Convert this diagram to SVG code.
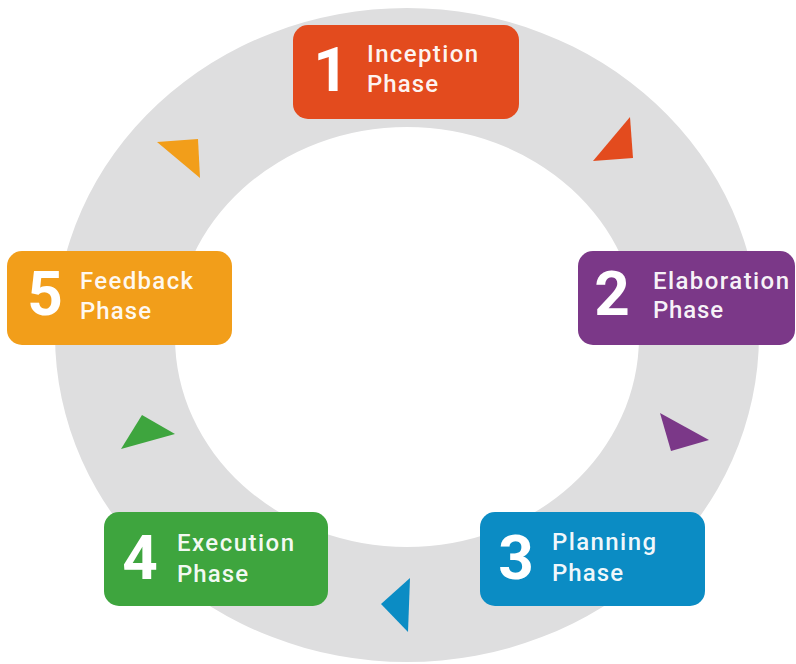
<svg xmlns="http://www.w3.org/2000/svg" width="796" height="664" viewBox="0 0 796 664">
<style>
.lbl{font-family:Roboto,"Liberation Sans",sans-serif;font-size:24px;font-weight:500;fill:#ffffff;fill-opacity:0.95;letter-spacing:1px}
.num{font-family:Roboto,"Liberation Sans",sans-serif;font-size:62px;font-weight:bold;fill:#ffffff;text-anchor:middle}
.c1{fill:#E34B1E}.c2{fill:#7B3888}.c3{fill:#0B8CC4}.c4{fill:#3EA53E}.c5{fill:#F29E1A}
</style>
<rect width="796" height="664" fill="#ffffff"/>
<path id="ring" fill="#DEDEDF" fill-rule="evenodd" d="M55,335 a352,327 0 1,0 704,0 a352,327 0 1,0 -704,0 Z M175,337 a232,210 0 1,0 464,0 a232,210 0 1,0 -464,0 Z"/>
<g id="connectors">
<polygon class="c1" points="630,117 633,158 593,161"/>
<polygon class="c2" points="660,413 709,440 671,451"/>
<polygon class="c3" points="410,578 381,604 408,632"/>
<polygon class="c4" points="142,415 175,434 121,449"/>
<polygon class="c5" points="157,142 198,139 200,178"/>
</g>
<g id="inception">
<rect class="c1" x="293" y="25" width="226" height="94" rx="15"/>
<text class="num" x="331" y="91">1</text>
<text class="lbl" x="367" y="62" textLength="112" lengthAdjust="spacing">Inception</text>
<text class="lbl" x="367" y="92" textLength="72" lengthAdjust="spacing">Phase</text>
</g>
<g id="elaboration">
<rect class="c2" x="578" y="251" width="217" height="94" rx="15"/>
<text class="num" x="612" y="315">2</text>
<text class="lbl" x="653" y="289" textLength="137" lengthAdjust="spacing">Elaboration</text>
<text class="lbl" x="653" y="318" textLength="71" lengthAdjust="spacing">Phase</text>
</g>
<g id="planning">
<rect class="c3" x="480" y="512" width="225" height="94" rx="15"/>
<text class="num" x="516" y="579">3</text>
<text class="lbl" x="552" y="550" textLength="105" lengthAdjust="spacing">Planning</text>
<text class="lbl" x="552" y="581" textLength="72" lengthAdjust="spacing">Phase</text>
</g>
<g id="execution">
<rect class="c4" x="104" y="512" width="224" height="94" rx="15"/>
<text class="num" x="140" y="579">4</text>
<text class="lbl" x="177" y="551" textLength="118" lengthAdjust="spacing">Execution</text>
<text class="lbl" x="177" y="582" textLength="72" lengthAdjust="spacing">Phase</text>
</g>
<g id="feedback">
<rect class="c5" x="7" y="251" width="225" height="94" rx="15"/>
<text class="num" x="45" y="315">5</text>
<text class="lbl" x="80" y="289" textLength="114" lengthAdjust="spacing">Feedback</text>
<text class="lbl" x="80" y="319" textLength="72" lengthAdjust="spacing">Phase</text>
</g>
</svg>
